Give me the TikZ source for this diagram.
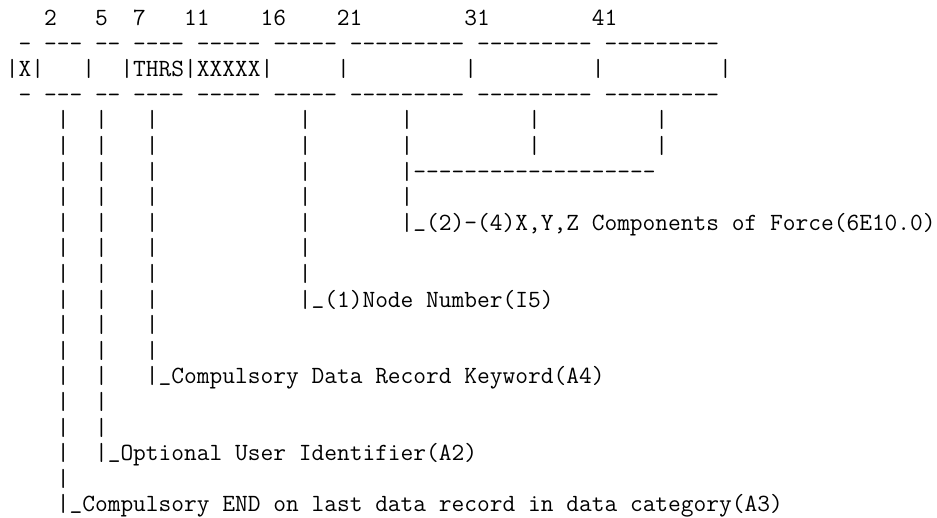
\documentclass[tikz,border=0pt]{standalone}
\usepackage{tikz}
\usetikzlibrary{positioning}

\newcommand\us{\raisebox{2.5pt}{\_}}

\begin{document}
\begin{tikzpicture}[x=0.75pt,y=-0.75pt,
    ascii/.style={anchor=base west,inner sep=0pt,font=\fontsize{18.55pt}{20pt}\selectfont\ttfamily}]
    \useasboundingbox (0,0) rectangle (937,517);
    % card layout
    \node[ascii] (cols) at (5.6,25.5) {~~~2~~~5~~7~~~11~~~~16~~~~21~~~~~~~~31~~~~~~~~41};
    \node[ascii] (ruletop) at (5.6,51.1) {~-~---~--~----~-----~-----~---------~---------~---------};
    \node[ascii] (record) at (5.6,76.7) {|X|~~~|~~|THRS|XXXXX|~~~~~|~~~~~~~~~|~~~~~~~~~|~~~~~~~~~|};
    \node[ascii] (rulebot) at (5.6,102.3) {~-~---~--~----~-----~-----~---------~---------~---------};
    % leaders
    \node[ascii] (bars4) at (5.6,127.9) {~~~~|~~|~~~|~~~~~~~~~~~|~~~~~~~|~~~~~~~~~|~~~~~~~~~|};
    \node[ascii] (bars5) at (5.6,153.5) {~~~~|~~|~~~|~~~~~~~~~~~|~~~~~~~|~~~~~~~~~|~~~~~~~~~|};
    \node[ascii] (join) at (5.6,179.1) {~~~~|~~|~~~|~~~~~~~~~~~|~~~~~~~|-------------------};
    \node[ascii] (bars7) at (5.6,204.7) {~~~~|~~|~~~|~~~~~~~~~~~|~~~~~~~|};
    \node[ascii] (lblforce) at (5.6,230.3) {~~~~|~~|~~~|~~~~~~~~~~~|~~~~~~~|\us(2)-(4)X,Y,Z~Components~of~Force(6E10.0)};
    \node[ascii] (bars9) at (5.6,255.9) {~~~~|~~|~~~|~~~~~~~~~~~|};
    \node[ascii] (bars10) at (5.6,281.5) {~~~~|~~|~~~|~~~~~~~~~~~|};
    \node[ascii] (lblnode) at (5.6,307.1) {~~~~|~~|~~~|~~~~~~~~~~~|\us(1)Node~Number(I5)};
    \node[ascii] (bars12) at (5.6,332.7) {~~~~|~~|~~~|};
    \node[ascii] (bars13) at (5.6,358.3) {~~~~|~~|~~~|};
    \node[ascii] (lblkey) at (5.6,383.9) {~~~~|~~|~~~|\us Compulsory~Data~Record~Keyword(A4)};
    \node[ascii] (bars15) at (5.6,409.5) {~~~~|~~|};
    \node[ascii] (bars16) at (5.6,435.1) {~~~~|~~|};
    \node[ascii] (lblid) at (5.6,460.7) {~~~~|~~|\us Optional~User~Identifier(A2)};
    \node[ascii] (bars18) at (5.6,486.3) {~~~~|};
    \node[ascii] (lblend) at (5.6,511.9) {~~~~|\us Compulsory~END~on~last~data~record~in~data~category(A3)};
\end{tikzpicture}
\end{document}
